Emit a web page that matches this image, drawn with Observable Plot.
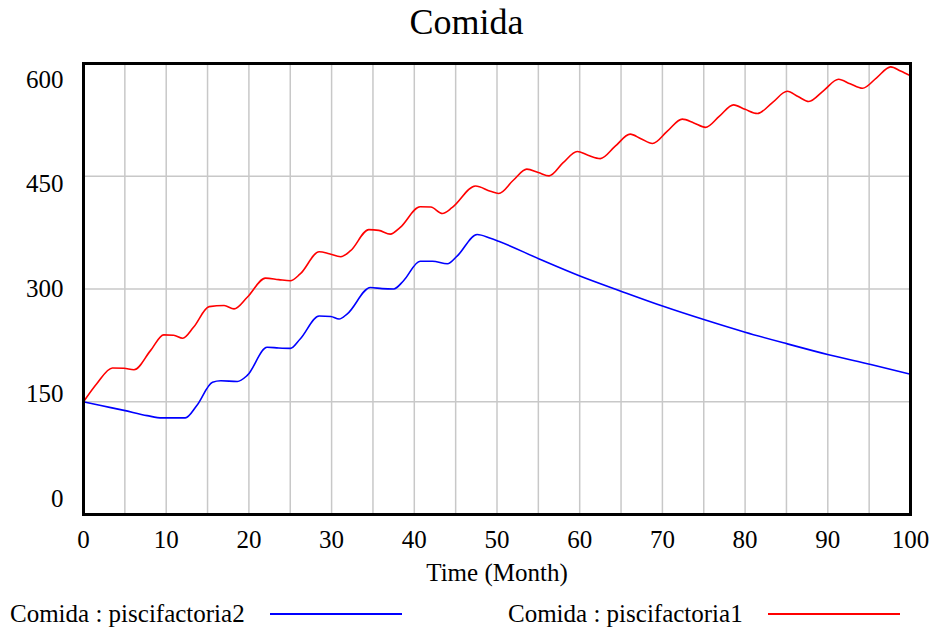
<!DOCTYPE html>
<html>
<head>
<meta charset="utf-8">
<script src="https://cdn.jsdelivr.net/npm/d3@7"></script>
<script src="https://cdn.jsdelivr.net/npm/@observablehq/plot@0.6"></script>
<style>
  html, body { margin: 0; padding: 0; background: #fff; }
  body { width: 933px; height: 630px; overflow: hidden; font-family: "Liberation Serif", "Times New Roman", serif; color: #000; }
  #title { height: 45px; line-height: 44px; text-align: center; font-size: 36px; }
  #legend { position: relative; height: 38px; font-size: 25px; }
  #legend .t { position: absolute; top: 8px; white-space: nowrap; }
  #legend .l { position: absolute; top: 21px; height: 2px; }
</style>
</head>
<body>
<div id="title">Comida</div>
<div id="chart"></div>
<div id="legend"></div>
<script>
// ---- data ----
const seriesNames = ["Comida : piscifactoria2", "Comida : piscifactoria1"];
const seriesColors = ["#0000ff", "#ff0000"];

// piscifactoria1 (red)
const redTime = [0, 1.6, 3.5, 4.9, 6.1, 8.1, 9.7, 10.9, 12.0, 13.3, 15.2, 17.0, 18.2, 19.8, 22.0, 23.6, 25.0, 26.2, 28.5, 29.7, 31.1, 32.3, 34.5, 35.7, 37.1, 38.3, 40.7, 42.0, 43.4, 44.6, 47.4, 49.2, 50.2, 52.0, 53.6, 55.0, 56.3, 58.0, 59.7, 61.0, 62.5, 64.3, 66.1, 67.4, 68.8, 70.6, 72.4, 73.8, 75.2, 76.9, 78.6, 80.0, 81.5, 83.3, 85.1, 86.4, 87.7, 89.5, 91.3, 92.7, 94.2, 95.9, 97.6, 98.8, 100];
const redValue = [150, 174, 195, 194.5, 192.5, 218, 239, 238.5, 234.5, 249, 276.5, 278, 273.5, 289, 314.5, 312.5, 311, 320, 349.5, 347, 343, 351, 379, 378, 373, 382, 409.5, 409, 400.5, 408.5, 437, 430, 427, 445, 459.5, 455, 450.5, 468, 483, 478, 473.5, 490, 506, 500, 493.5, 510, 526, 521, 515, 530, 545, 539, 533.5, 548, 563, 556, 549.5, 564, 579, 573, 567, 581, 595.5, 590, 583.5];

// piscifactoria2 (blue)
const blueTime = [0, 2.1, 4.9, 7.7, 9.5, 12.3, 13.7, 15.6, 16.6, 18.6, 19.8, 22.2, 23.6, 25.0, 26.2, 28.5, 29.9, 30.9, 31.9, 34.7, 36.1, 37.5, 38.7, 40.7, 42.2, 44.0, 45.2, 47.6, 49.2, 50.2, 55.1, 60.1, 64.9, 70.1, 75.1, 80.0, 85.1, 90.1, 95.2, 100];
const blueValue = [150, 145, 138.5, 131.5, 128.5, 128.5, 145, 176, 178, 177, 185, 222.5, 221.5, 221, 233.5, 264, 263.5, 260, 267, 302, 300.5, 300, 311, 337, 337, 333.5, 344, 372.5, 367.5, 363.5, 340, 317, 297.5, 277, 259, 242.5, 227, 212.5, 199.5, 186.5];

const xTicks = [0, 10, 20, 30, 40, 50, 60, 70, 80, 90, 100];
const xGrid = [5, 10, 15, 20, 25, 30, 35, 40, 45, 50, 55, 60, 65, 70, 75, 80, 85, 90, 95];
const yTicks = [0, 150, 300, 450, 600];
const yGrid = [150, 300, 450];
const xLabel = "Time (Month)";

// ---- build ----
const blue = blueTime.map((t, i) => ({t, v: blueValue[i]}));
const red = redTime.map((t, i) => ({t, v: redValue[i]}));

const W = 933, H = 547;
const mT = 18, mB = 78, mL = 83, mR = 23;
// Vensim spreads the y labels evenly, inset from the frame ends
const innerH = H - mT - mB;
const labelMarks = yTicks.map((tk, i) => {
  const yTick = mT + innerH * (1 - tk / 600);
  const yLab = (H - mB - 16) - i * (innerH - 32) / (yTicks.length - 1);
  return Plot.axisY([tk], {anchor: "left", tickSize: 0, tickPadding: 20, dy: yLab - yTick, label: null, fontSize: 25});
});

const chart = Plot.plot({
  width: W,
  height: H,
  marginTop: mT,
  marginBottom: mB,
  marginLeft: mL,
  marginRight: mR,
  style: {fontFamily: '"Liberation Serif", "Times New Roman", serif', fontSize: "25px", color: "#000", background: "#fff"},
  x: {domain: [0, 100]},
  y: {domain: [0, 600]},
  marks: [
    Plot.gridX(xGrid, {stroke: "#c8c8c8", strokeOpacity: 1, strokeWidth: 1.5}),
    Plot.gridY(yGrid, {stroke: "#c8c8c8", strokeOpacity: 1, strokeWidth: 1.5}),
    Plot.line(blue, {x: "t", y: "v", stroke: seriesColors[0], strokeWidth: 1.6, curve: "monotone-x"}),
    Plot.line(red, {x: "t", y: "v", stroke: seriesColors[1], strokeWidth: 1.6, curve: "monotone-x"}),
    Plot.frame({stroke: "#000", strokeWidth: 3}),
    Plot.axisX(xTicks, {anchor: "bottom", tickSize: 0, tickPadding: 16, fontSize: 25, label: xLabel, labelAnchor: "center", labelOffset: 66, labelArrow: "none"}),
    ...labelMarks
  ]
});
document.getElementById("chart").appendChild(chart);

// legend
const legend = document.getElementById("legend");
const legendPos = [{text: 10, line: [270, 402]}, {text: 508, line: [768, 900]}];
seriesNames.forEach((name, i) => {
  const t = document.createElement("span");
  t.className = "t";
  t.style.left = legendPos[i].text + "px";
  t.textContent = name;
  legend.appendChild(t);
  const l = document.createElement("span");
  l.className = "l";
  l.style.left = legendPos[i].line[0] + "px";
  l.style.width = (legendPos[i].line[1] - legendPos[i].line[0]) + "px";
  l.style.background = seriesColors[i];
  legend.appendChild(l);
});
</script>
</body>
</html>
